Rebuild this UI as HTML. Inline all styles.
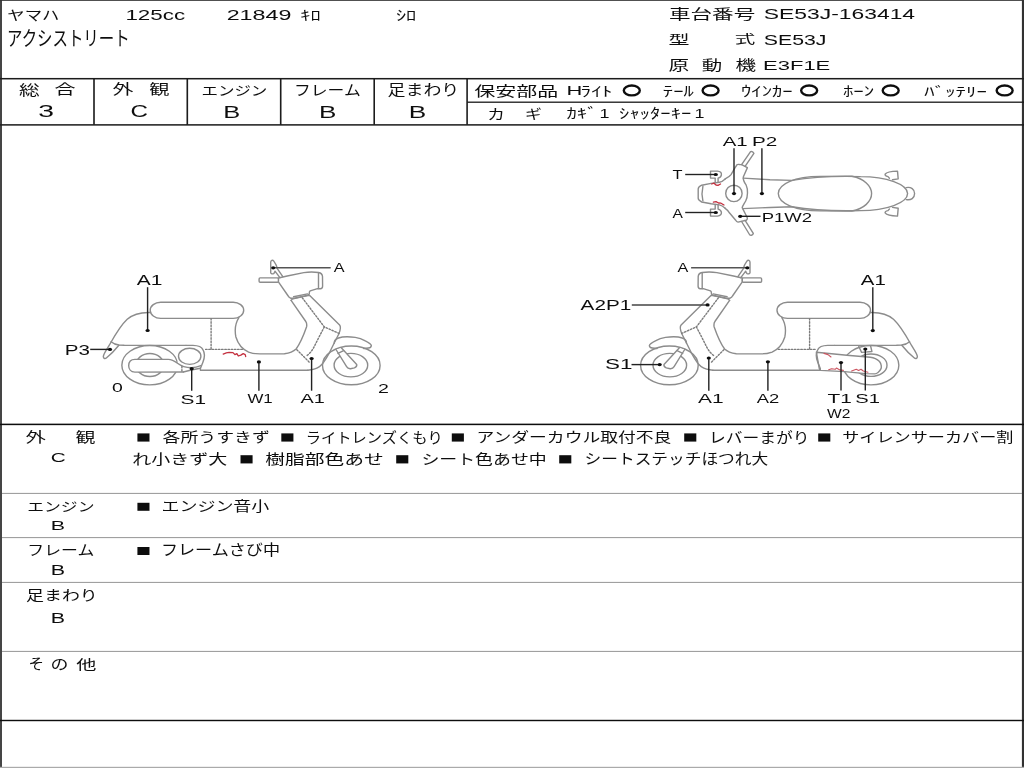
<!DOCTYPE html><html><head><meta charset="utf-8"><title>sheet</title><style>html,body{margin:0;padding:0;background:#fff;overflow:hidden}svg{display:block}body{font-family:"Liberation Sans",sans-serif}svg text{font-family:"Liberation Sans","Noto Sans CJK JP",sans-serif}</style></head><body><svg width="1024" height="768" viewBox="0 0 1024 768"><defs><filter id="soft" x="0" y="0" width="1024" height="768" filterUnits="userSpaceOnUse"><feGaussianBlur stdDeviation="0.4"/></filter></defs><rect x="0" y="0" width="1024" height="768" fill="#fff"/><g filter="url(#soft)"><rect x="0" y="0" width="2" height="768" fill="#444"/><rect x="1021.9" y="0" width="2.2" height="768" fill="#333"/><rect x="0" y="-0.05" width="1024" height="0.9" fill="#333"/><rect x="0" y="766.8" width="1024" height="1.2" fill="#aaa"/><rect x="0" y="77.95" width="1024" height="1.5" fill="#1c1c1c"/><rect x="467.1" y="101.55" width="556.9" height="1.3" fill="#1c1c1c"/><rect x="0" y="124.15" width="1024" height="1.5" fill="#1c1c1c"/><rect x="93.2" y="78.7" width="1.6" height="46.2" fill="#1c1c1c"/><rect x="186.5" y="78.7" width="1.6" height="46.2" fill="#1c1c1c"/><rect x="279.9" y="78.7" width="1.6" height="46.2" fill="#1c1c1c"/><rect x="373.4" y="78.7" width="1.6" height="46.2" fill="#1c1c1c"/><rect x="466.3" y="78.7" width="1.6" height="46.2" fill="#1c1c1c"/><rect x="0" y="423.65" width="1024" height="1.5" fill="#0c0c0c"/><rect x="2" y="492.9" width="1020" height="1" fill="#969696"/><rect x="2" y="537.1" width="1020" height="1" fill="#969696"/><rect x="2" y="581.9" width="1020" height="1" fill="#969696"/><rect x="2" y="650.9" width="1020" height="1" fill="#969696"/><rect x="0" y="719.8" width="1024" height="1.4" fill="#111"/>
<text x="7.3" y="20" font-size="13.6" fill="#0e0e0e" textLength="52" lengthAdjust="spacingAndGlyphs">ヤマハ</text>
<text x="125.4" y="19.8" font-size="14.5" fill="#0e0e0e" textLength="59.7" lengthAdjust="spacingAndGlyphs">125cc</text>
<text x="226.7" y="19.8" font-size="14.5" fill="#0e0e0e" textLength="64.7" lengthAdjust="spacingAndGlyphs">21849</text>
<text x="300.3" y="20.2" font-size="13.9" fill="#0e0e0e" textLength="20.3" lengthAdjust="spacingAndGlyphs">ｷﾛ</text>
<text x="395.9" y="20.1" font-size="14.1" fill="#0e0e0e" textLength="20.4" lengthAdjust="spacingAndGlyphs">ｼﾛ</text>
<text x="7" y="46.1" font-size="20.3" fill="#0e0e0e" textLength="122.6" lengthAdjust="spacingAndGlyphs">アクシストリート</text>
<text x="669" y="18.8" font-size="13.4" fill="#0e0e0e" textLength="86.2" lengthAdjust="spacingAndGlyphs">車台番号</text>
<text x="763.8" y="19.4" font-size="14.9" fill="#0e0e0e" textLength="151.3" lengthAdjust="spacingAndGlyphs">SE53J-163414</text>
<text x="668.5" y="44.1" font-size="12.9" fill="#0e0e0e" textLength="21" lengthAdjust="spacingAndGlyphs">型</text>
<text x="734.7" y="44.1" font-size="12.1" fill="#0e0e0e" textLength="20.5" lengthAdjust="spacingAndGlyphs">式</text>
<text x="763.8" y="44.5" font-size="14" fill="#0e0e0e" textLength="62.6" lengthAdjust="spacingAndGlyphs">SE53J</text>
<text x="668.4" y="70" font-size="13.6" fill="#0e0e0e" textLength="20.6" lengthAdjust="spacingAndGlyphs">原</text>
<text x="701.8" y="70.1" font-size="13.1" fill="#0e0e0e" textLength="20.5" lengthAdjust="spacingAndGlyphs">動</text>
<text x="735.5" y="70" font-size="13.2" fill="#0e0e0e" textLength="20.6" lengthAdjust="spacingAndGlyphs">機</text>
<text x="763.1" y="69.9" font-size="13.7" fill="#0e0e0e" textLength="67.2" lengthAdjust="spacingAndGlyphs">E3F1E</text>
<text x="19.1" y="94.6" font-size="13.7" fill="#0e0e0e" textLength="20.7" lengthAdjust="spacingAndGlyphs">総</text>
<text x="54.4" y="94.4" font-size="13.8" fill="#0e0e0e" textLength="21" lengthAdjust="spacingAndGlyphs">合</text>
<text x="38.2" y="117.3" font-size="16.1" fill="#0e0e0e" textLength="15.7" lengthAdjust="spacingAndGlyphs">3</text>
<text x="112.5" y="94.4" font-size="13.5" fill="#0e0e0e" textLength="20.9" lengthAdjust="spacingAndGlyphs">外</text>
<text x="149.2" y="94.2" font-size="13.3" fill="#0e0e0e" textLength="20.2" lengthAdjust="spacingAndGlyphs">観</text>
<text x="130.4" y="117" font-size="16.1" fill="#0e0e0e" textLength="17.5" lengthAdjust="spacingAndGlyphs">C</text>
<text x="201.4" y="95.1" font-size="13" fill="#0e0e0e" textLength="66" lengthAdjust="spacingAndGlyphs">エンジン</text>
<text x="223.3" y="117.5" font-size="16.1" fill="#0e0e0e" textLength="17" lengthAdjust="spacingAndGlyphs">B</text>
<text x="294" y="95.2" font-size="14.2" fill="#0e0e0e" textLength="66.7" lengthAdjust="spacingAndGlyphs">フレーム</text>
<text x="319" y="117.5" font-size="16.1" fill="#0e0e0e" textLength="17.4" lengthAdjust="spacingAndGlyphs">B</text>
<text x="387.6" y="94.7" font-size="14.3" fill="#0e0e0e" textLength="71.6" lengthAdjust="spacingAndGlyphs">足まわり</text>
<text x="408.8" y="117.5" font-size="16.1" fill="#0e0e0e" textLength="17.5" lengthAdjust="spacingAndGlyphs">B</text>
<text x="474.2" y="95.7" font-size="13.3" fill="#0e0e0e" textLength="84" lengthAdjust="spacingAndGlyphs">保安部品</text>
<text x="566.5" y="95.1" font-size="13.6" fill="#0e0e0e" textLength="15.8" lengthAdjust="spacingAndGlyphs">H</text>
<text x="580.5" y="96" font-size="13.5" fill="#0e0e0e" textLength="31.9" lengthAdjust="spacingAndGlyphs">ﾗｲﾄ</text>
<text x="662.8" y="95.7" font-size="14" fill="#0e0e0e" textLength="31" lengthAdjust="spacingAndGlyphs">ﾃｰﾙ</text>
<text x="741" y="96.1" font-size="13.5" fill="#0e0e0e" textLength="51.7" lengthAdjust="spacingAndGlyphs">ｳｲﾝｶｰ</text>
<text x="842.9" y="95.9" font-size="13.3" fill="#0e0e0e" textLength="31.4" lengthAdjust="spacingAndGlyphs">ﾎｰﾝ</text>
<text x="924.3" y="96" font-size="12.8" fill="#0e0e0e" textLength="62.5" lengthAdjust="spacingAndGlyphs">ﾊﾞｯﾃﾘｰ</text>
<ellipse cx="631.8" cy="90.45" rx="8" ry="4.95" fill="none" stroke="#111" stroke-width="2.4"/><ellipse cx="710.6" cy="90.45" rx="8" ry="4.95" fill="none" stroke="#111" stroke-width="2.4"/><ellipse cx="809.15" cy="90.45" rx="8" ry="4.95" fill="none" stroke="#111" stroke-width="2.4"/><ellipse cx="890.7" cy="90.45" rx="8" ry="4.95" fill="none" stroke="#111" stroke-width="2.4"/><ellipse cx="1004.65" cy="90.45" rx="8" ry="4.95" fill="none" stroke="#111" stroke-width="2.4"/>
<text x="487.2" y="118.6" font-size="13.9" fill="#0e0e0e" textLength="17.7" lengthAdjust="spacingAndGlyphs">カ</text>
<text x="524.9" y="118.6" font-size="13.6" fill="#0e0e0e" textLength="16.8" lengthAdjust="spacingAndGlyphs">ギ</text>
<text x="566.4" y="117.7" font-size="13.4" fill="#0e0e0e" textLength="31.3" lengthAdjust="spacingAndGlyphs">ｶｷﾞ</text>
<text x="599.4" y="118" font-size="13" fill="#0e0e0e" textLength="10" lengthAdjust="spacingAndGlyphs">1</text>
<text x="619.1" y="118.1" font-size="13.8" fill="#0e0e0e" textLength="72.2" lengthAdjust="spacingAndGlyphs">ｼｬｯﾀｰｷｰ</text>
<text x="694.4" y="118" font-size="13" fill="#0e0e0e" textLength="10" lengthAdjust="spacingAndGlyphs">1</text>
<text x="25.4" y="442.3" font-size="14" fill="#0e0e0e" textLength="20.3" lengthAdjust="spacingAndGlyphs">外</text>
<text x="75.6" y="442.3" font-size="14" fill="#0e0e0e" textLength="19.9" lengthAdjust="spacingAndGlyphs">観</text>
<text x="50.7" y="462" font-size="13.7" fill="#0e0e0e" textLength="15" lengthAdjust="spacingAndGlyphs">C</text>
<rect x="137.4" y="433.4" width="12.1" height="8.2" fill="#111"/><rect x="281.3" y="433.4" width="12.1" height="8.2" fill="#111"/><rect x="451.8" y="433.4" width="12.1" height="8.2" fill="#111"/><rect x="684.2" y="433.4" width="12.1" height="8.2" fill="#111"/><rect x="818.2" y="433.4" width="12.1" height="8.2" fill="#111"/>
<text x="162.6" y="442.3" font-size="13.7" fill="#0e0e0e" textLength="107.2" lengthAdjust="spacingAndGlyphs">各所うすきず</text>
<text x="305.7" y="442.8" font-size="14.3" fill="#0e0e0e" textLength="137" lengthAdjust="spacingAndGlyphs">ライトレンズくもり</text>
<text x="476.4" y="442.3" font-size="13.7" fill="#0e0e0e" textLength="195" lengthAdjust="spacingAndGlyphs">アンダーカウル取付不良</text>
<text x="709.1" y="442.8" font-size="14.5" fill="#0e0e0e" textLength="100.4" lengthAdjust="spacingAndGlyphs">レバーまがり</text>
<text x="842.2" y="442.3" font-size="13.9" fill="#0e0e0e" textLength="171.3" lengthAdjust="spacingAndGlyphs">サイレンサーカバー割</text>
<rect x="240.5" y="455.2" width="12.1" height="8.2" fill="#111"/><rect x="396.2" y="455.2" width="12.1" height="8.2" fill="#111"/><rect x="559.2" y="455.2" width="12.1" height="8.2" fill="#111"/>
<text x="132.3" y="463.7" font-size="14" fill="#0e0e0e" textLength="95" lengthAdjust="spacingAndGlyphs">れ小きず大</text>
<text x="265.3" y="463.5" font-size="14.2" fill="#0e0e0e" textLength="118.6" lengthAdjust="spacingAndGlyphs">樹脂部色あせ</text>
<text x="421.4" y="463.5" font-size="14.2" fill="#0e0e0e" textLength="125.4" lengthAdjust="spacingAndGlyphs">シート色あせ中</text>
<text x="584.6" y="463.6" font-size="14.4" fill="#0e0e0e" textLength="183.6" lengthAdjust="spacingAndGlyphs">シートステッチほつれ大</text>
<text x="27.2" y="511.4" font-size="12.8" fill="#0e0e0e" textLength="67.3" lengthAdjust="spacingAndGlyphs">エンジン</text>
<text x="50.7" y="530.4" font-size="13.2" fill="#0e0e0e" textLength="14.3" lengthAdjust="spacingAndGlyphs">B</text>
<rect x="137.4" y="502.8" width="12.1" height="8" fill="#111"/>
<text x="161.5" y="511.3" font-size="13.6" fill="#0e0e0e" textLength="107.8" lengthAdjust="spacingAndGlyphs">エンジン音小</text>
<text x="27.3" y="555.3" font-size="13.7" fill="#0e0e0e" textLength="67" lengthAdjust="spacingAndGlyphs">フレーム</text>
<text x="50.7" y="575.2" font-size="14.5" fill="#0e0e0e" textLength="14.3" lengthAdjust="spacingAndGlyphs">B</text>
<rect x="137.4" y="547" width="12.1" height="8" fill="#111"/>
<text x="160.9" y="555.4" font-size="14.5" fill="#0e0e0e" textLength="119.2" lengthAdjust="spacingAndGlyphs">フレームさび中</text>
<text x="26.1" y="600.3" font-size="13.8" fill="#0e0e0e" textLength="71.7" lengthAdjust="spacingAndGlyphs">足まわり</text>
<text x="50.7" y="622.5" font-size="13.8" fill="#0e0e0e" textLength="14.3" lengthAdjust="spacingAndGlyphs">B</text>
<text x="28.6" y="669.4" font-size="14.4" fill="#0e0e0e" textLength="15.5" lengthAdjust="spacingAndGlyphs">そ</text>
<text x="50.6" y="669.3" font-size="13.3" fill="#0e0e0e" textLength="17.9" lengthAdjust="spacingAndGlyphs">の</text>
<text x="76.3" y="668.9" font-size="13" fill="#0e0e0e" textLength="20.2" lengthAdjust="spacingAndGlyphs">他</text>
<g><ellipse cx="149.7" cy="365.2" rx="27.85" ry="19.7" fill="none" stroke="#8c8c8c" stroke-width="1.4"/><ellipse cx="149.9" cy="365.0" rx="13.9" ry="11.5" fill="none" stroke="#8c8c8c" stroke-width="1.4"/><path d="M134.9 359.4 C130.5 359.4 128.7 362.5 128.7 365.7 C128.7 369 130.7 372.1 134.9 372.1 L183.4 372 L191.2 370 L200.4 368.3 L202.9 362.3 C205 357 205 353 202.9 349.6 C202 347.5 198 345.6 193 345.4 L179.5 345.4 L178.3 356 L177.5 363.3 C175 361.5 172 359.6 168.2 359.4 Z" fill="#fff" stroke="none" stroke-width="1.4" stroke-linecap="round" stroke-linejoin="round"/><path d="M183.4 372 L134.9 372.1 C130.7 372.1 128.7 369 128.7 365.7 C128.7 362.5 130.5 359.4 134.9 359.4 L168.2 359.4 C172 359.6 175 361.5 177.5 363.3 C181 366 186 367.7 191.2 367.7 C195 367.6 198 366.8 200.9 365.6" fill="none" stroke="#8c8c8c" stroke-width="1.4" stroke-linecap="round" stroke-linejoin="round"/><path d="M183.4 372 L191.2 370 L200.4 368.3" fill="none" stroke="#8c8c8c" stroke-width="1.4" stroke-linecap="round" stroke-linejoin="round"/><ellipse cx="189.7" cy="356.3" rx="11.2" ry="8.05" fill="#fff" stroke="#8c8c8c" stroke-width="1.4"/><path d="M181.9 366.4 L181.9 371.4" fill="none" stroke="#7c7c7c" stroke-width="1.4" stroke-linecap="round" stroke-linejoin="round" stroke-dasharray="1.5 1.7" stroke-linecap="butt"/><ellipse cx="351.3" cy="365.4" rx="28.8" ry="19.4" fill="none" stroke="#8c8c8c" stroke-width="1.4"/><ellipse cx="350.9" cy="365.15" rx="16.8" ry="11.75" fill="none" stroke="#8c8c8c" stroke-width="1.4"/><path d="M336 349.5 L346.6 366.7 C347.5 368.3 349 368.9 350.5 368.8 L354.4 367.9 C356 367.2 357 365.6 356.7 364.4 L341.5 348.1 Z" fill="#fff" stroke="none" stroke-width="1.4" stroke-linecap="round" stroke-linejoin="round"/><path d="M336 349.5 L346.6 366.7 C347.5 368.3 349 368.9 350.5 368.8 L354.4 367.9 C356 367.2 357 365.6 356.7 364.4 L341.5 348.1" fill="none" stroke="#8c8c8c" stroke-width="1.4" stroke-linecap="round" stroke-linejoin="round"/><path d="M338 353.4 L343.6 350.6" fill="none" stroke="#8c8c8c" stroke-width="1.4" stroke-linecap="round" stroke-linejoin="round"/><path d="M334.2 343.2 C334.2 340.5 336 338.8 338.5 338 C342 336.8 349 336.6 355.2 337.4 C359 338 363 339.6 365.3 340.9 C368 342.3 371 344 371.3 345.4 C371.3 347 370 347.8 368.4 348 L363.7 348.5" fill="none" stroke="#8c8c8c" stroke-width="1.4" stroke-linecap="round" stroke-linejoin="round"/><rect x="150.2" y="302.2" width="93.5" height="16.2" rx="10.5" ry="8.1" fill="#fff" stroke="#8c8c8c" stroke-width="1.4"/><path d="M150.6 312.5 C143 312.2 134 313.3 127.2 319.3 C120 326 114.5 336 109.6 344.7 C107 349 103.4 354 103.3 356.6 C103.3 358.9 105.3 358.9 106.6 357.8 C110 355 115 350 118.9 345.2" fill="none" stroke="#8c8c8c" stroke-width="1.4" stroke-linecap="round" stroke-linejoin="round"/><path d="M111.1 341.8 C113 343.5 116 344.7 118.9 345 L124.3 345.3 L186 345.4" fill="none" stroke="#8c8c8c" stroke-width="1.4" stroke-linecap="round" stroke-linejoin="round"/><path d="M186 345.4 L193 345.4 C198 345.6 202 347.5 202.9 349.6 C205 353 205 357 202.9 362.3 L200.4 368.4 L200.4 370.2 L307.8 370.2" fill="none" stroke="#8c8c8c" stroke-width="1.4" stroke-linecap="round" stroke-linejoin="round"/><path d="M238.9 317.6 C235.4 323 234.3 329 235.9 337 C238 344 243 349.6 248.6 352.1 C252 353.5 256 353.9 260 353.9 L284.4 353.7 C290 353 294 351 296.1 349 C299 345 303.7 335 306.6 326.7 C307 324 306.4 322.3 305.8 321.5 L291.1 300.4" fill="none" stroke="#8c8c8c" stroke-width="1.4" stroke-linecap="round" stroke-linejoin="round"/><path d="M291.1 300.4 C291.5 299.4 292.6 298.9 294.1 298.6 L307.7 295.6 L309.7 295.5 L339.6 325 C341 326.6 340.6 329.5 338.9 333.7 L333.6 344.3 L328.9 353.7 C326 359 322 365 319.5 366.7 C316 369 311 370.1 307.8 370.2" fill="none" stroke="#8c8c8c" stroke-width="1.4" stroke-linecap="round" stroke-linejoin="round"/><path d="M211.1 318.6 L211.1 349.4" fill="none" stroke="#7c7c7c" stroke-width="1.4" stroke-linecap="round" stroke-linejoin="round" stroke-dasharray="1.5 1.7" stroke-linecap="butt"/><path d="M205.6 349.4 L242.4 349.4" fill="none" stroke="#7c7c7c" stroke-width="1.4" stroke-linecap="round" stroke-linejoin="round" stroke-dasharray="1.5 1.7" stroke-linecap="butt"/><path d="M302.3 297.8 L324.3 326.9 L339 333.4" fill="none" stroke="#7c7c7c" stroke-width="1.4" stroke-linecap="round" stroke-linejoin="round" stroke-dasharray="1.5 1.7" stroke-linecap="butt"/><path d="M324.3 326.9 L319.1 336.9 L314.4 346.2 C312.5 350 310 353.5 306.6 355.8" fill="none" stroke="#7c7c7c" stroke-width="1.4" stroke-linecap="round" stroke-linejoin="round" stroke-dasharray="1.5 1.7" stroke-linecap="butt"/><path d="M296.8 349.8 L310.3 363.2" fill="none" stroke="#7c7c7c" stroke-width="1.4" stroke-linecap="round" stroke-linejoin="round" stroke-dasharray="1.5 1.7" stroke-linecap="butt"/><path d="M278.4 281.8 L278.4 278 L287.2 276 L303.8 272.6 C308 272 314 271.9 318.5 272.5 C321 273 322.4 274.5 322.5 276.5 L322.6 286.2 C322.6 287.8 321.8 288.6 320.4 288.7 L317.5 288.7 L310.2 290.8 C309.5 291.2 309.3 292 309.3 293 L309.2 294.1 L307.7 295.3 L294.1 298.2 L290.6 298.2 C289.5 297.7 288.6 296.8 288.2 296 Z" fill="#fff" stroke="#8c8c8c" stroke-width="1.4" stroke-linecap="round" stroke-linejoin="round"/><path d="M318.5 272.6 L318.5 288.5" fill="none" stroke="#8c8c8c" stroke-width="1.4" stroke-linecap="round" stroke-linejoin="round"/><path d="M293.6 296.8 L307.5 293.9" fill="none" stroke="#8c8c8c" stroke-width="1.4" stroke-linecap="round" stroke-linejoin="round"/><rect x="259.1" y="277.9" width="19.3" height="4.4" rx="1" ry="1" fill="#fff" stroke="#8c8c8c" stroke-width="1.4"/><path d="M270.7 262.3 C270.7 260.4 272.6 259.6 273.8 261.2 C275.5 263.5 277 266.5 277.3 268.7 L282.8 276.6 M270.7 262.3 L270.7 272.8 C270.8 273.9 272.5 274.1 273.6 273.6 C274.3 273 274.8 272 275 271.1 L279.9 277.7" fill="none" stroke="#8c8c8c" stroke-width="1.4" stroke-linecap="round" stroke-linejoin="round"/></g><g><ellipse cx="871.0" cy="365.2" rx="27.85" ry="19.7" fill="none" stroke="#8c8c8c" stroke-width="1.4"/><ellipse cx="871.0" cy="365.2" rx="16.0" ry="11.2" fill="none" stroke="#8c8c8c" stroke-width="1.4"/><path d="M816.4 352.3 L846.9 355.2 L870.3 357.2 C874 357.6 877.3 359.3 879.5 361.5 C881.6 364 881.6 367.5 880.9 368.9 C879.5 372 876.5 373.9 875 373.9 L865.6 373.6 L844.5 371.6 L820.5 370.4 C819.6 370 819.4 369.3 819.3 368.7 Z" fill="#fff" stroke="#8c8c8c" stroke-width="1.4" stroke-linecap="round" stroke-linejoin="round"/><path d="M858.7 346.2 L861.6 352.4 L871.9 351.5 L870.6 346" fill="none" stroke="#8c8c8c" stroke-width="1.4" stroke-linecap="round" stroke-linejoin="round"/></g><g transform="matrix(-1 0 0 1 1020.7 0)"><ellipse cx="351.3" cy="365.4" rx="28.8" ry="19.4" fill="none" stroke="#8c8c8c" stroke-width="1.4"/><ellipse cx="350.9" cy="365.15" rx="16.8" ry="11.75" fill="none" stroke="#8c8c8c" stroke-width="1.4"/><path d="M336 349.5 L346.6 366.7 C347.5 368.3 349 368.9 350.5 368.8 L354.4 367.9 C356 367.2 357 365.6 356.7 364.4 L341.5 348.1 Z" fill="#fff" stroke="none" stroke-width="1.4" stroke-linecap="round" stroke-linejoin="round"/><path d="M336 349.5 L346.6 366.7 C347.5 368.3 349 368.9 350.5 368.8 L354.4 367.9 C356 367.2 357 365.6 356.7 364.4 L341.5 348.1" fill="none" stroke="#8c8c8c" stroke-width="1.4" stroke-linecap="round" stroke-linejoin="round"/><path d="M338 353.4 L343.6 350.6" fill="none" stroke="#8c8c8c" stroke-width="1.4" stroke-linecap="round" stroke-linejoin="round"/><path d="M334.2 343.2 C334.2 340.5 336 338.8 338.5 338 C342 336.8 349 336.6 355.2 337.4 C359 338 363 339.6 365.3 340.9 C368 342.3 371 344 371.3 345.4 C371.3 347 370 347.8 368.4 348 L363.7 348.5" fill="none" stroke="#8c8c8c" stroke-width="1.4" stroke-linecap="round" stroke-linejoin="round"/><rect x="150.2" y="302.2" width="93.5" height="16.2" rx="10.5" ry="8.1" fill="#fff" stroke="#8c8c8c" stroke-width="1.4"/><path d="M150.6 312.5 C143 312.2 134 313.3 127.2 319.3 C120 326 114.5 336 109.6 344.7 C107 349 103.4 354 103.3 356.6 C103.3 358.9 105.3 358.9 106.6 357.8 C110 355 115 350 118.9 345.2" fill="none" stroke="#8c8c8c" stroke-width="1.4" stroke-linecap="round" stroke-linejoin="round"/><path d="M111.1 341.8 C113 343.5 116 344.7 118.9 345 L124.3 345.3 L186 345.4" fill="none" stroke="#8c8c8c" stroke-width="1.4" stroke-linecap="round" stroke-linejoin="round"/><path d="M186 345.4 L193 345.4 C198 345.6 202 347.5 202.9 349.6 C205 353 205 357 202.9 362.3 L200.4 368.4 L200.4 370.2 L307.8 370.2" fill="none" stroke="#8c8c8c" stroke-width="1.4" stroke-linecap="round" stroke-linejoin="round"/><path d="M238.9 317.6 C235.4 323 234.3 329 235.9 337 C238 344 243 349.6 248.6 352.1 C252 353.5 256 353.9 260 353.9 L284.4 353.7 C290 353 294 351 296.1 349 C299 345 303.7 335 306.6 326.7 C307 324 306.4 322.3 305.8 321.5 L291.1 300.4" fill="none" stroke="#8c8c8c" stroke-width="1.4" stroke-linecap="round" stroke-linejoin="round"/><path d="M291.1 300.4 C291.5 299.4 292.6 298.9 294.1 298.6 L307.7 295.6 L309.7 295.5 L339.6 325 C341 326.6 340.6 329.5 338.9 333.7 L333.6 344.3 L328.9 353.7 C326 359 322 365 319.5 366.7 C316 369 311 370.1 307.8 370.2" fill="none" stroke="#8c8c8c" stroke-width="1.4" stroke-linecap="round" stroke-linejoin="round"/><path d="M211.1 318.6 L211.1 349.4" fill="none" stroke="#7c7c7c" stroke-width="1.4" stroke-linecap="round" stroke-linejoin="round" stroke-dasharray="1.5 1.7" stroke-linecap="butt"/><path d="M205.6 349.4 L242.4 349.4" fill="none" stroke="#7c7c7c" stroke-width="1.4" stroke-linecap="round" stroke-linejoin="round" stroke-dasharray="1.5 1.7" stroke-linecap="butt"/><path d="M302.3 297.8 L324.3 326.9 L339 333.4" fill="none" stroke="#7c7c7c" stroke-width="1.4" stroke-linecap="round" stroke-linejoin="round" stroke-dasharray="1.5 1.7" stroke-linecap="butt"/><path d="M324.3 326.9 L319.1 336.9 L314.4 346.2 C312.5 350 310 353.5 306.6 355.8" fill="none" stroke="#7c7c7c" stroke-width="1.4" stroke-linecap="round" stroke-linejoin="round" stroke-dasharray="1.5 1.7" stroke-linecap="butt"/><path d="M296.8 349.8 L310.3 363.2" fill="none" stroke="#7c7c7c" stroke-width="1.4" stroke-linecap="round" stroke-linejoin="round" stroke-dasharray="1.5 1.7" stroke-linecap="butt"/><path d="M278.4 281.8 L278.4 278 L287.2 276 L303.8 272.6 C308 272 314 271.9 318.5 272.5 C321 273 322.4 274.5 322.5 276.5 L322.6 286.2 C322.6 287.8 321.8 288.6 320.4 288.7 L317.5 288.7 L310.2 290.8 C309.5 291.2 309.3 292 309.3 293 L309.2 294.1 L307.7 295.3 L294.1 298.2 L290.6 298.2 C289.5 297.7 288.6 296.8 288.2 296 Z" fill="#fff" stroke="#8c8c8c" stroke-width="1.4" stroke-linecap="round" stroke-linejoin="round"/><path d="M318.5 272.6 L318.5 288.5" fill="none" stroke="#8c8c8c" stroke-width="1.4" stroke-linecap="round" stroke-linejoin="round"/><path d="M293.6 296.8 L307.5 293.9" fill="none" stroke="#8c8c8c" stroke-width="1.4" stroke-linecap="round" stroke-linejoin="round"/><rect x="259.1" y="277.9" width="19.3" height="4.4" rx="1" ry="1" fill="#fff" stroke="#8c8c8c" stroke-width="1.4"/><path d="M270.7 262.3 C270.7 260.4 272.6 259.6 273.8 261.2 C275.5 263.5 277 266.5 277.3 268.7 L282.8 276.6 M270.7 262.3 L270.7 272.8 C270.8 273.9 272.5 274.1 273.6 273.6 C274.3 273 274.8 272 275 271.1 L279.9 277.7" fill="none" stroke="#8c8c8c" stroke-width="1.4" stroke-linecap="round" stroke-linejoin="round"/></g><path d="M743.3 178.1 L770 179.7 L791.9 180.4 C815 176.5 840 176 860.6 176.6 A47 17 0 0 1 907.6 193.6 A47 17 0 0 1 860.6 210.6 C840 211.2 815 210.7 791.9 206.8 L770 207.5 L742.7 208.6" fill="none" stroke="#8c8c8c" stroke-width="1.4" stroke-linecap="round" stroke-linejoin="round"/><path d="M778.3 193.6 C778.3 184 795 176.4 820 176.4 L852 176.3 C864 178.5 871.6 186 871.6 193.6 C871.6 201.3 864 208.8 852 211 L820 210.9 C795 210.9 778.3 203.3 778.3 193.6 Z" fill="none" stroke="#8c8c8c" stroke-width="1.4" stroke-linecap="round" stroke-linejoin="round"/><path d="M906.2 187.6 C911 186.6 914.6 189.3 914.6 193.6 C914.6 197.9 911 200.6 906.2 199.6" fill="none" stroke="#8c8c8c" stroke-width="1.4" stroke-linecap="round" stroke-linejoin="round"/><path d="M889.4 178.2 L888 176.6 C885.5 176.2 884.6 175 885.3 174 C886.5 172.3 890 171.3 897.5 171.1 L898.2 178.9 L892.5 179.8" fill="none" stroke="#8c8c8c" stroke-width="1.4" stroke-linecap="round" stroke-linejoin="round"/><path d="M889.4 209 L888 210.6 C885.5 211 884.6 212.2 885.3 213.2 C886.5 214.9 890 215.9 897.5 216.1 L898.2 208.3 L892.5 207.4" fill="none" stroke="#8c8c8c" stroke-width="1.4" stroke-linecap="round" stroke-linejoin="round"/><path d="M725.2 178.9 C723 181 721 182 719.3 182.3 L711.1 183.4 L701.7 185.2 C699 186.5 698.2 187.5 698.2 188.9 L698.2 198.3 C698.2 199.7 699 200.7 701.7 202 L711.1 203.8 L719.3 204.9 C721 205.2 723 206.2 725.2 208.3" fill="none" stroke="#8c8c8c" stroke-width="1.4" stroke-linecap="round" stroke-linejoin="round"/><path d="M702.9 186.3 C702 190 702 197 702.9 200.9" fill="none" stroke="#8c8c8c" stroke-width="1.4" stroke-linecap="round" stroke-linejoin="round"/><path d="M715.2 182.8 L715.2 178.1 L710.5 178.1 L710.5 171.1 L717.5 171.1 C720.5 171.3 721.6 173 721.4 174.8 C721.2 176.5 720 177.6 718.1 178.1 L718.1 182.4" fill="none" stroke="#8c8c8c" stroke-width="1.4" stroke-linecap="round" stroke-linejoin="round"/><path d="M715.2 204.4 L715.2 209.1 L710.5 209.1 L710.5 216.1 L717.5 216.1 C720.5 215.9 721.6 214.2 721.4 212.4 C721.2 210.7 720 209.6 718.1 209.1 L718.1 204.8" fill="none" stroke="#8c8c8c" stroke-width="1.4" stroke-linecap="round" stroke-linejoin="round"/><path d="M725.2 178.9 C728 177.5 730 176 731 174.6 L734.5 168.7 L736.9 164.8 C737.5 164.2 738.5 164.3 739.5 164.5 L741.6 164.6 L747.4 167.6 L743.3 177 C743 179.5 743.5 181.5 746.2 185.2 C748 189 748 197 745.7 201 C744 204 742.5 206 742.2 207.6 L747.4 218 C747.4 219 747 219.8 746.2 220.3 L738 222.1 C737 222 736.2 221.3 735.7 220.3 L729.8 213.3 C728.5 211 727 209.5 725.2 208.3" fill="none" stroke="#8c8c8c" stroke-width="1.4" stroke-linecap="round" stroke-linejoin="round"/><path d="M741.6 164.6 L750.4 151.8 C751.2 151 753 151.8 753.9 153.3 L745.1 166.4" fill="none" stroke="#8c8c8c" stroke-width="1.4" stroke-linecap="round" stroke-linejoin="round"/><path d="M741.6 221.5 L749.8 235 C751 235.8 752.8 234.8 753.3 233.4 L745.1 220.4" fill="none" stroke="#8c8c8c" stroke-width="1.4" stroke-linecap="round" stroke-linejoin="round"/><ellipse cx="733.9" cy="193.4" rx="8.2" ry="8.2" fill="none" stroke="#8c8c8c" stroke-width="1.4"/><path d="M223.2 354.1 C225 353.3 227 352.6 229.1 352.4 L233 352.6 L234.9 354.6 L236.9 353.6 L238.3 356 L240.8 355.1 L243.2 353.6 L245.2 354.6 L245.7 356.5" fill="none" stroke="#c4303f" stroke-width="1.3" stroke-linecap="round" stroke-linejoin="round"/><path d="M824 353.4 L828 354.6 L831 357" fill="none" stroke="#cc5560" stroke-width="1.1" stroke-linecap="round" stroke-linejoin="round"/><path d="M828.7 369.8 L831.6 368.7 L835.2 369.3 L836.4 368.1 L839.9 369.9 L843.4 370.4" fill="none" stroke="#cc5560" stroke-width="1.1" stroke-linecap="round" stroke-linejoin="round"/><path d="M851.6 371 L856.3 369.3 L858.6 370.4 L861 369.3 L863.3 371 L868 372.2" fill="none" stroke="#cc5560" stroke-width="1.1" stroke-linecap="round" stroke-linejoin="round"/><path d="M711.7 184 L714 183.2 L716 185 L718 185.3 L720.5 184" fill="none" stroke="#c4303f" stroke-width="1.3" stroke-linecap="round" stroke-linejoin="round"/><path d="M713.4 202.1 L716 201.6 L718.5 203 L721 203.2 L724 205" fill="none" stroke="#c4303f" stroke-width="1.3" stroke-linecap="round" stroke-linejoin="round"/>
<text x="136.7" y="285" font-size="14.2" fill="#101010" textLength="25.6" lengthAdjust="spacingAndGlyphs">A1</text>
<path d="M147.6 287.2 L147.6 330.4" stroke="#222" stroke-width="1.4" fill="none"/><ellipse cx="147.6" cy="330.5" rx="2.1" ry="1.6" fill="#111"/>
<text x="64.8" y="354.6" font-size="14" fill="#101010" textLength="25.1" lengthAdjust="spacingAndGlyphs">P3</text>
<path d="M90.2 349.4 L110 349.4" stroke="#222" stroke-width="1.4" fill="none"/><ellipse cx="110.0" cy="349.4" rx="2.1" ry="1.6" fill="#111"/>
<text x="111.9" y="392.4" font-size="12.9" fill="#101010" textLength="10.8" lengthAdjust="spacingAndGlyphs">0</text>
<text x="180.5" y="403.5" font-size="13.7" fill="#101010" textLength="25.5" lengthAdjust="spacingAndGlyphs">S1</text>
<path d="M191.7 368.7 L191.7 390.7" stroke="#222" stroke-width="1.4" fill="none"/><ellipse cx="191.7" cy="368.7" rx="2.1" ry="1.6" fill="#111"/>
<text x="247.4" y="403.4" font-size="13.4" fill="#101010" textLength="25.3" lengthAdjust="spacingAndGlyphs">W1</text>
<path d="M258.9 361.9 L258.9 390.7" stroke="#222" stroke-width="1.4" fill="none"/><ellipse cx="258.9" cy="361.9" rx="2.1" ry="1.6" fill="#111"/>
<text x="300.4" y="403.4" font-size="13.3" fill="#101010" textLength="24.3" lengthAdjust="spacingAndGlyphs">A1</text>
<path d="M311.6 358.5 L311.6 390.7" stroke="#222" stroke-width="1.4" fill="none"/><ellipse cx="311.6" cy="358.5" rx="2.1" ry="1.6" fill="#111"/>
<text x="378" y="392.5" font-size="13.2" fill="#101010" textLength="10.9" lengthAdjust="spacingAndGlyphs">2</text>
<text x="333.8" y="271.9" font-size="13.6" fill="#101010" textLength="10.8" lengthAdjust="spacingAndGlyphs">A</text>
<path d="M273.2 267.8 L330.7 267.8" stroke="#555" stroke-width="1.5" fill="none"/><ellipse cx="273.2" cy="267.8" rx="2.1" ry="1.6" fill="#111"/>
<text x="677.6" y="271.9" font-size="13.6" fill="#101010" textLength="10.8" lengthAdjust="spacingAndGlyphs">A</text>
<path d="M691.1 267.8 L747.3 267.8" stroke="#555" stroke-width="1.5" fill="none"/><ellipse cx="747.3" cy="267.8" rx="2.1" ry="1.6" fill="#111"/>
<text x="580.6" y="309.5" font-size="13.9" fill="#101010" textLength="50.6" lengthAdjust="spacingAndGlyphs">A2P1</text>
<path d="M631.8 304.9 L707.5 304.9" stroke="#444" stroke-width="1.5" fill="none"/><ellipse cx="707.6" cy="304.9" rx="2.1" ry="1.6" fill="#111"/>
<text x="605.1" y="369.2" font-size="13.8" fill="#101010" textLength="27.4" lengthAdjust="spacingAndGlyphs">S1</text>
<path d="M631.5 364.6 L659.6 364.6" stroke="#222" stroke-width="1.4" fill="none"/><ellipse cx="659.7" cy="364.6" rx="2.1" ry="1.6" fill="#111"/>
<text x="860.8" y="285" font-size="14.2" fill="#101010" textLength="25" lengthAdjust="spacingAndGlyphs">A1</text>
<path d="M872.8 287.2 L872.8 330.4" stroke="#222" stroke-width="1.4" fill="none"/><ellipse cx="872.8" cy="330.6" rx="2.1" ry="1.6" fill="#111"/>
<text x="698.1" y="403.4" font-size="13.3" fill="#101010" textLength="25.6" lengthAdjust="spacingAndGlyphs">A1</text>
<path d="M708.8 358.0 L708.8 390.7" stroke="#222" stroke-width="1.4" fill="none"/><ellipse cx="708.8" cy="358.0" rx="2.1" ry="1.6" fill="#111"/>
<text x="756.7" y="403.4" font-size="13.2" fill="#101010" textLength="22.5" lengthAdjust="spacingAndGlyphs">A2</text>
<path d="M767.9 361.8 L767.9 390.7" stroke="#222" stroke-width="1.4" fill="none"/><ellipse cx="767.9" cy="361.8" rx="2.1" ry="1.6" fill="#111"/>
<text x="827.5" y="403.1" font-size="13.2" fill="#101010" textLength="24.3" lengthAdjust="spacingAndGlyphs">T1</text>
<path d="M841.0 362.6 L841.0 390.5" stroke="#222" stroke-width="1.4" fill="none"/><ellipse cx="841.0" cy="362.6" rx="2.1" ry="1.6" fill="#111"/>
<text x="855.3" y="403.1" font-size="13.4" fill="#101010" textLength="24.7" lengthAdjust="spacingAndGlyphs">S1</text>
<path d="M865.3 349.0 L865.3 390.5" stroke="#222" stroke-width="1.4" fill="none"/><ellipse cx="865.3" cy="349.0" rx="2.1" ry="1.6" fill="#111"/>
<text x="827" y="418.4" font-size="12.5" fill="#101010" textLength="23.3" lengthAdjust="spacingAndGlyphs">W2</text>
<text x="722.7" y="146.3" font-size="13.7" fill="#101010" textLength="25" lengthAdjust="spacingAndGlyphs">A1</text>
<path d="M734.0 148.2 L734.0 193.4" stroke="#222" stroke-width="1.4" fill="none"/><ellipse cx="734.0" cy="193.6" rx="2.1" ry="1.6" fill="#111"/>
<text x="752" y="146.3" font-size="13.6" fill="#101010" textLength="25.3" lengthAdjust="spacingAndGlyphs">P2</text>
<path d="M761.9 148.2 L761.9 193.4" stroke="#222" stroke-width="1.4" fill="none"/><ellipse cx="761.9" cy="193.6" rx="2.1" ry="1.6" fill="#111"/>
<text x="672.6" y="179.1" font-size="13.7" fill="#101010" textLength="10" lengthAdjust="spacingAndGlyphs">T</text>
<path d="M685.2 174.5 L715.5 174.5" stroke="#222" stroke-width="1.4" fill="none"/><ellipse cx="715.8" cy="174.5" rx="2.1" ry="1.6" fill="#111"/>
<text x="672.4" y="217.7" font-size="13" fill="#101010" textLength="10.4" lengthAdjust="spacingAndGlyphs">A</text>
<path d="M685.2 212.5 L715.5 212.5" stroke="#222" stroke-width="1.4" fill="none"/><ellipse cx="715.8" cy="212.5" rx="2.1" ry="1.6" fill="#111"/>
<text x="761.7" y="222.1" font-size="13.6" fill="#101010" textLength="50.3" lengthAdjust="spacingAndGlyphs">P1W2</text>
<path d="M740.3 216.3 L760.5 216.3" stroke="#222" stroke-width="1.4" fill="none"/><ellipse cx="740.2" cy="216.3" rx="2.1" ry="1.6" fill="#111"/></g></svg></body></html>
